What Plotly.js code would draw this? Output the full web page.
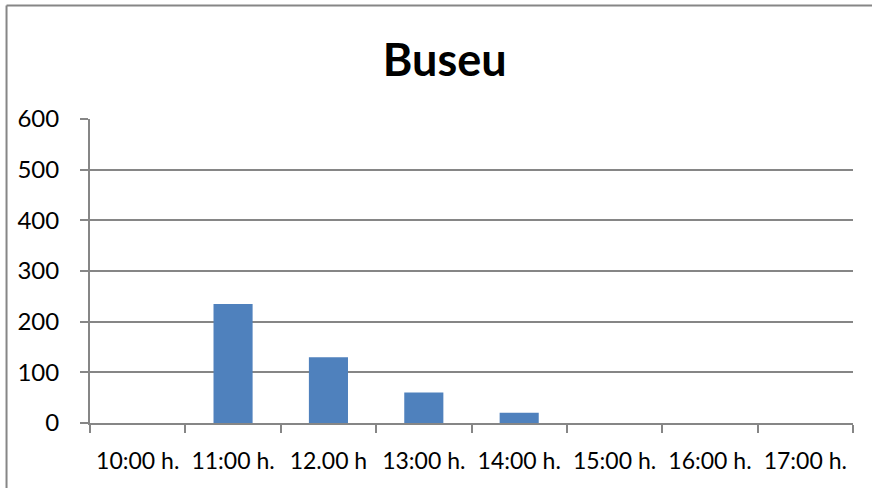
<!DOCTYPE html>
<html>
<head>
<meta charset="utf-8">
<script src="https://cdn.plot.ly/plotly-3.0.1.min.js"></script>
<style>html,body{margin:0;padding:0;background:#fff;}#chart{width:872px;height:488px;}</style>
</head>
<body>
<div id="chart"></div>
<script>
const categories = ["10:00 h.", "11:00 h.", "12.00 h", "13:00 h.", "14:00 h.", "15:00 h.", "16:00 h.", "17:00 h."];
const values = [0, 235, 130, 60, 20, 0, 0, 0];
const yTicks = [0, 100, 200, 300, 400, 500, 600];
const titleText = "Buseu";

const trace = {
  type: "bar",
  x: categories,
  y: values,
  marker: {color: "#4F81BD", line: {width: 0}},
  hoverinfo: "x+y"
};

const layout = {
  width: 872, height: 488,
  margin: {l: 90, r: 19, t: 119, b: 65, pad: 0},
  paper_bgcolor: "#ffffff", plot_bgcolor: "#ffffff",
  font: {family: "Lato, 'Open Sans', sans-serif", size: 24, color: "#000000"},
  title: {text: "<b>" + titleText + "</b>", font: {family: "Lato, sans-serif", size: 45, color: "#000"},
          x: 0.51, xanchor: "center", y: 0.877, yanchor: "middle", yref: "container"},
  bargap: 0.59,
  showlegend: false,
  xaxis: {
    type: "category",
    showgrid: false,
    showline: true, linecolor: "#868686", linewidth: 2,
    ticks: "outside", tickson: "boundaries", ticklen: 8, tickwidth: 2, tickcolor: "#868686",
    tickfont: {size: 23},
    tickangle: 0,
    ticklabelstandoff: 16,
    zeroline: false,
    fixedrange: true
  },
  yaxis: {
    range: [0, 600],
    tickvals: yTicks,
    showgrid: true, gridcolor: "#868686", gridwidth: 2,
    showline: true, linecolor: "#868686", linewidth: 2,
    ticks: "outside", ticklen: 8, tickwidth: 2, tickcolor: "#868686",
    ticklabelstandoff: 16,
    tickfont: {size: 24},
    zeroline: false,
    fixedrange: true
  },
  shapes: [
    {type: "line", xref: "paper", yref: "paper", x0: -0.1094, x1: 1.2, y0: 1.3734, y1: 1.3734, line: {color: "#868686", width: 2}},
    {type: "line", xref: "paper", yref: "paper", x0: -0.1094, x1: -0.1094, y0: 1.3734, y1: -0.3, line: {color: "#868686", width: 2}}
  ]
};

Plotly.newPlot("chart", [trace], layout, {displayModeBar: false, staticPlot: true});
</script>
</body>
</html>
